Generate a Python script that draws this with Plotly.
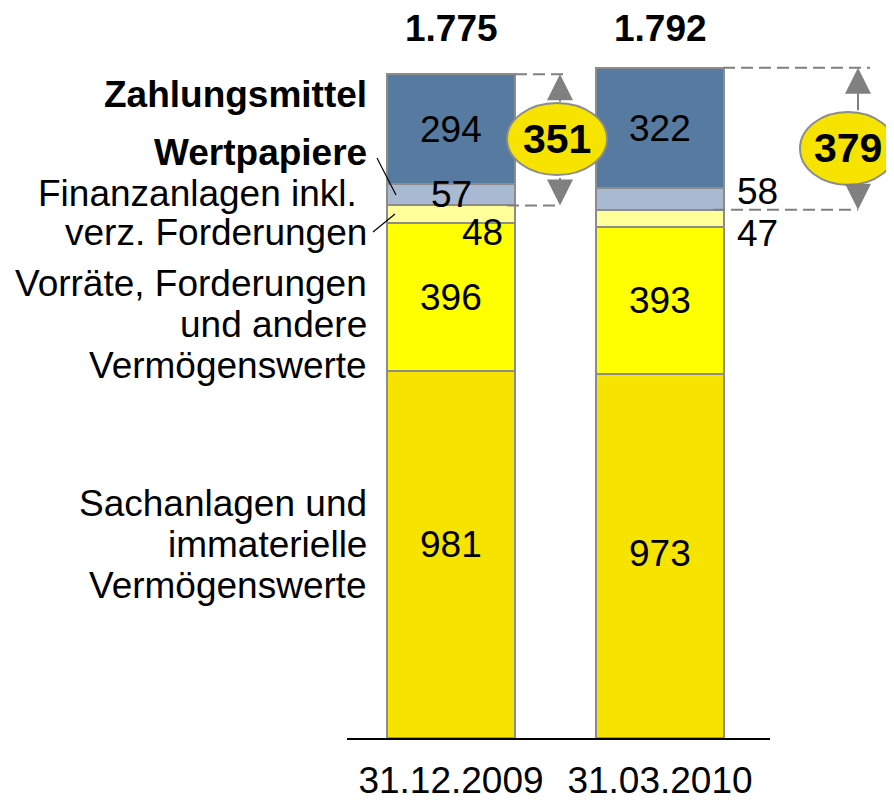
import plotly.graph_objects as go

# ---------------- data ----------------
dates = ["31.12.2009", "31.03.2010"]
sachanlagen = [981, 973]          # Sachanlagen und immaterielle Vermögenswerte
vorraete = [396, 393]             # Vorräte, Forderungen und andere Vermögenswerte
finanzanlagen = [48, 47]          # Finanzanlagen inkl. verz. Forderungen
wertpapiere = [57, 58]            # Wertpapiere
zahlungsmittel = [294, 322]       # Zahlungsmittel
totals_text = ["1.775", "1.792"]
liquiditaet = [351, 379]

# ---------------- styles ----------------
FONT = "Liberation Sans, Arial, Helvetica, sans-serif"
OFF = 8                  # page body margin
W, H = 894 - OFF, 800 - OFF
PL, PR = 347, 770        # plot area left/right (page px)
PT, PB = 20, 738         # plot area top/bottom (page px)
YMAX = 1921
BAR_W = 0.612
OUTLINE = "#8C8C8C"
GREY = "#808080"
FS = 37

stack = [sachanlagen, vorraete, finanzanlagen, wertpapiere, zahlungsmittel]
colors = ["#F6E300", "#FFFF00", "#FFFF99", "#A8B9D1", "#567AA0"]
# label offsets (xshift, yshift) per segment per bar
offsets = [
    [(0, 10), (0, 3)],
    [(0, 0), (0, 0)],
    [(31, -18), (97, -15)],
    [(0, 0), (97, 8)],
    [(0, 0), (0, 0)],
]


def px_x(p):
    return (p - PL) / (PR - PL)


def px_y(p):
    return (PB - p) / (PB - PT)


fig = go.Figure()
for vals, col in zip(stack, colors):
    fig.add_bar(x=dates, y=vals, width=BAR_W,
                marker=dict(color=col, line=dict(color=OUTLINE, width=2)),
                hoverinfo="skip", showlegend=False)

annotations = []
shapes = []

# segment value labels
base = [0, 0]
for si, vals in enumerate(stack):
    for bi, v in enumerate(vals):
        xs, ys = offsets[si][bi]
        annotations.append(dict(x=dates[bi], y=base[bi] + v / 2, xref="x", yref="y",
                                text=str(v), showarrow=False, xshift=xs, yshift=ys,
                                font=dict(family=FONT, size=FS, color="black")))
        base[bi] += v

# totals on top
for bi, t in enumerate(totals_text):
    annotations.append(dict(x=dates[bi], y=px_y(28), xref="x", yref="paper",
                            text="<b>" + t + "</b>", showarrow=False, yanchor="middle",
                            font=dict(family=FONT, size=FS, color="black")))

# left category labels
left_labels = [
    ("<b>Zahlungsmittel</b>", 94, 369),
    ("<b>Wertpapiere</b>", 152, 369),
    ("Finanzanlagen inkl.", 193, 359),
    ("verz. Forderungen", 233, 369),
    ("Vorräte, Forderungen", 283, 369),
    ("und andere", 324, 369),
    ("Vermögenswerte", 365, 369),
    ("Sachanlagen und", 503, 369),
    ("immaterielle", 544, 369),
    ("Vermögenswerte", 585, 369),
]
for txt, yp, xp in left_labels:
    annotations.append(dict(x=px_x(xp), y=px_y(yp), xref="paper", yref="paper",
                            text=txt, showarrow=False, xanchor="right", yanchor="middle",
                            font=dict(family=FONT, size=FS, color="black")))

# leader lines
for (x0, y0, x1, y1) in [(377, 158, 396, 195), (373, 232, 395, 214)]:
    shapes.append(dict(type="line", xref="paper", yref="paper",
                       x0=px_x(x0), y0=px_y(y0), x1=px_x(x1), y1=px_y(y1),
                       line=dict(color="black", width=1.2)))

# brackets for liquidity
top1 = sum(s[0] for s in stack)
top2 = sum(s[1] for s in stack)
low1 = sachanlagen[0] + vorraete[0] + finanzanlagen[0]
low2 = sachanlagen[1] + vorraete[1] + finanzanlagen[1]
brackets = [
    (top1, low1, 515, 563, 507, 560, 560, (507, 103, 607, 175), 29, -29),
    (top2, low2, 723, 870, 713, 858, 858, (800, 112, 896, 185), 44, -25),
]
for bi, (yt, yl, xt0, xt1, xl0, xl1, xa, ell, at, al) in enumerate(brackets):
    shapes.append(dict(type="line", xref="paper", yref="y", x0=px_x(xt0), x1=px_x(xt1),
                       y0=yt, y1=yt, line=dict(color=GREY, width=2, dash="12px,6px")))
    shapes.append(dict(type="line", xref="paper", yref="y", x0=px_x(xl0), x1=px_x(xl1),
                       y0=yl, y1=yl, line=dict(color=GREY, width=2, dash="12px,6px")))
    for yy, ay in [(yt, at), (yl, al)]:
        annotations.append(dict(x=px_x(xa), y=yy, xref="paper", yref="y", ax=0, ay=ay,
                                text="", showarrow=True, arrowhead=2, arrowsize=2.6,
                                arrowwidth=2, arrowcolor=GREY, standoff=0, startstandoff=0))
    x0, y0, x1, y1 = ell
    shapes.append(dict(type="circle", xref="paper", yref="paper", layer="above",
                       x0=px_x(x0), x1=px_x(x1), y0=px_y(y1), y1=px_y(y0),
                       fillcolor="#F6E300", line=dict(color=OUTLINE, width=2)))
    annotations.append(dict(x=px_x((x0 + x1) / 2), y=px_y((y0 + y1) / 2), xref="paper",
                            yref="paper", text="<b>" + str(liquiditaet[bi]) + "</b>",
                            showarrow=False, xanchor="center", yanchor="middle",
                            font=dict(family=FONT, size=41, color="black")))

fig.update_layout(
    width=W, height=H,
    margin=dict(l=PL - OFF, r=(894 - OFF) - (PR - OFF), t=PT - OFF, b=(800 - OFF) - (PB - OFF),
                pad=0, autoexpand=False),
    barmode="stack",
    paper_bgcolor="white", plot_bgcolor="white",
    showlegend=False,
    annotations=annotations,
    shapes=shapes,
    xaxis=dict(type="category", range=[-0.4976, -0.4976 + (PR - PL) / 209],
               showline=True, linecolor="black", linewidth=2, showgrid=False,
               zeroline=False, ticks="", ticklabelstandoff=9, automargin=False,
               tickfont=dict(family=FONT, size=FS, color="black"), fixedrange=True),
    yaxis=dict(range=[0, YMAX], visible=False, showgrid=False, zeroline=False,
               fixedrange=True, automargin=False),
)

fig.write_html("out.html")
